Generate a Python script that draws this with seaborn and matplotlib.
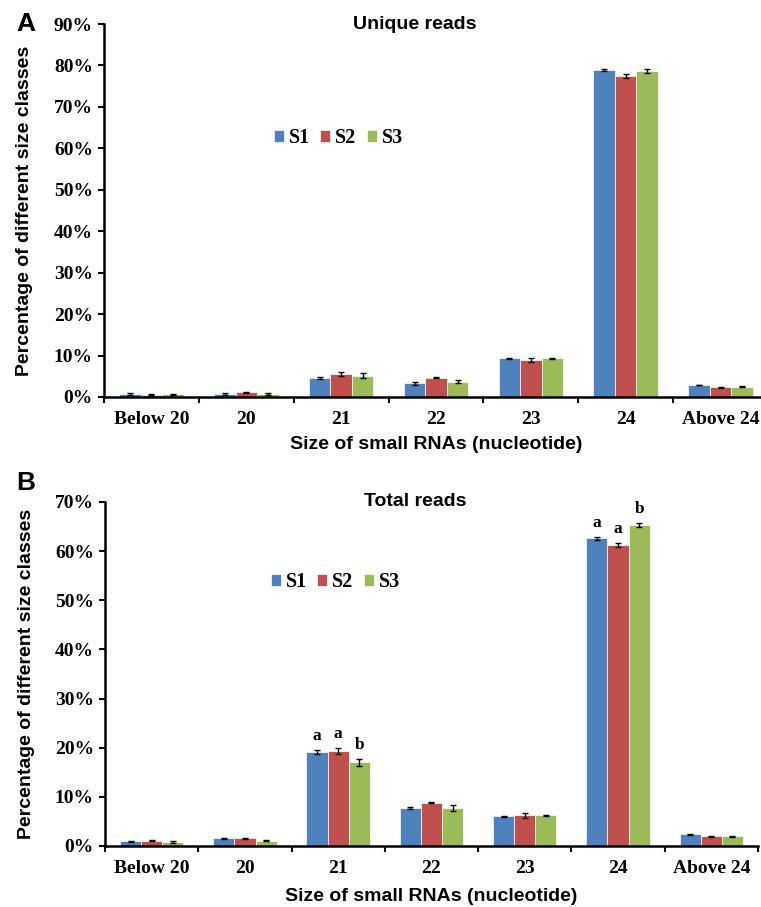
import matplotlib
matplotlib.use("Agg")
import matplotlib.pyplot as plt
import seaborn as sns
import numpy as np
import pandas as pd
from matplotlib.ticker import PercentFormatter

# categories and series
sizes = ["Below 20", "20", "21", "22", "23", "24", "Above 24"]
samples = ["S1", "S2", "S3"]

# panel A: unique reads (%)
unique_s1 = [0.8, 0.8, 4.6, 3.3, 9.3, 78.9, 2.9]
unique_s2 = [0.6, 1.1, 5.5, 4.7, 8.9, 77.5, 2.3]
unique_s3 = [0.7, 0.8, 5.1, 3.7, 9.3, 78.7, 2.5]
unique_err_s1 = [0.2, 0.2, 0.2, 0.3, 0.1, 0.2, 0.1]
unique_err_s2 = [0.2, 0.2, 0.5, 0.1, 0.4, 0.5, 0.2]
unique_err_s3 = [0.1, 0.2, 0.6, 0.4, 0.1, 0.4, 0.1]

# panel B: total reads (%)
total_s1 = [0.95, 1.6, 19.1, 7.7, 6.0, 62.6, 2.4]
total_s2 = [1.1, 1.6, 19.4, 8.8, 6.2, 61.3, 2.0]
total_s3 = [0.75, 1.1, 17.0, 7.7, 6.2, 65.3, 2.0]
total_err_s1 = [0.1, 0.1, 0.4, 0.2, 0.1, 0.3, 0.1]
total_err_s2 = [0.1, 0.1, 0.6, 0.1, 0.6, 0.4, 0.1]
total_err_s3 = [0.2, 0.1, 0.7, 0.6, 0.1, 0.5, 0.1]

# significance letters (category, sample, letter)
total_letters = [("21", "S1", "a"), ("21", "S2", "a"), ("21", "S3", "b"),
                 ("24", "S1", "a"), ("24", "S2", "a"), ("24", "S3", "b")]

colors = ["#4F81BD", "#C0504D", "#9BBB59"]


def to_long(vals, errs):
    rows = []
    for s, v, e in zip(samples, vals, errs):
        for c, x, err in zip(sizes, v, e):
            rows.append({"size": c, "sample": s, "pct": x, "err": err})
    return pd.DataFrame(rows)


def draw_panel(ax, df, ymax, title, title_x, legend_y, xlabelpad, letters=None):
    sns.barplot(data=df, x="size", y="pct", hue="sample", order=sizes,
                hue_order=samples, palette=colors, errorbar=None,
                width=0.68, saturation=1, ax=ax, edgecolor="white", linewidth=0.5)
    # error bars at bar centres
    bar_pos = {}
    for container, s in zip(ax.containers, samples):
        sub = df[df["sample"] == s].set_index("size").loc[sizes]
        xs = [p.get_x() + p.get_width() / 2 for p in container.patches]
        ax.errorbar(xs, sub["pct"], yerr=sub["err"], fmt="none",
                    ecolor="black", elinewidth=1, capsize=2.5, capthick=1)
        for c, x, y, e in zip(sizes, xs, sub["pct"], sub["err"]):
            bar_pos[(c, s)] = (x, y + e)
    if letters:
        for c, s, t in letters:
            x, y = bar_pos[(c, s)]
            ax.text(x, y + 2.8, t, ha="center", va="center",
                    fontsize=12.5, fontweight="bold", family="Liberation Serif")

    ax.set_ylim(0, ymax)
    ax.set_xlim(-0.5, len(sizes) - 0.5)
    ax.set_yticks(np.arange(0, ymax + 1, 10))
    ax.yaxis.set_major_formatter(PercentFormatter(decimals=0))
    ax.set_xticks(range(len(sizes)))
    ax.set_xticks(np.arange(-0.5, len(sizes), 1), minor=True)
    ax.tick_params(axis="x", which="major", length=0, pad=10)
    ax.tick_params(axis="x", which="minor", length=4, width=1.5, direction="out")
    ax.tick_params(axis="y", length=4, width=1.5, direction="out", pad=4)
    for lab in ax.get_xticklabels() + ax.get_yticklabels():
        lab.set_family("Liberation Serif")
        lab.set_fontweight("bold")
        lab.set_fontsize(14)
    sns.despine(ax=ax)
    ax.spines["left"].set_linewidth(1.8)
    ax.spines["bottom"].set_linewidth(1.8)

    ax.set_xlabel("Size of small RNAs (nucleotide)", fontsize=14,
                  fontweight="bold", family="Liberation Sans", labelpad=xlabelpad)
    ax.set_ylabel("Percentage of different size classes", fontsize=14,
                  fontweight="bold", family="Liberation Sans")
    ax.yaxis.set_label_coords(-0.107, 0.5)
    ax.text(title_x, 1.0, title, transform=ax.transAxes, ha="center", va="center",
            fontsize=14, fontweight="bold", family="Liberation Sans")

    ax.legend(loc="center", bbox_to_anchor=(0.353, legend_y),
              ncol=3, frameon=False, handlelength=0.5, handleheight=0.5,
              handletextpad=0.25, columnspacing=0.5,
              prop={"family": "Liberation Serif", "weight": "bold", "size": 14.5})


sns.set_style("ticks")
plt.rcParams.update({"text.color": "black", "axes.labelcolor": "black",
                     "xtick.color": "black", "ytick.color": "black",
                     "axes.edgecolor": "black"})

fig = plt.figure(figsize=(7.61, 9.07), dpi=100)
ax_a = fig.add_axes([0.1367, 0.5623, 0.8725, 0.4112])
ax_b = fig.add_axes([0.138, 0.0673, 0.858, 0.3793])

draw_panel(ax_a, to_long([unique_s1, unique_s2, unique_s3],
                         [unique_err_s1, unique_err_s2, unique_err_s3]),
           90, "Unique reads", 0.468, 0.694, 6)
draw_panel(ax_b, to_long([total_s1, total_s2, total_s3],
                         [total_err_s1, total_err_s2, total_err_s3]),
           70, "Total reads", 0.475, 0.767, 8, total_letters)

fig.text(0.034, 0.974, "A", fontsize=19, fontweight="bold",
         family="Liberation Sans", ha="center", va="center")
fig.text(0.034, 0.467, "B", fontsize=19, fontweight="bold",
         family="Liberation Sans", ha="center", va="center")

fig.savefig("out.png", dpi=100)
